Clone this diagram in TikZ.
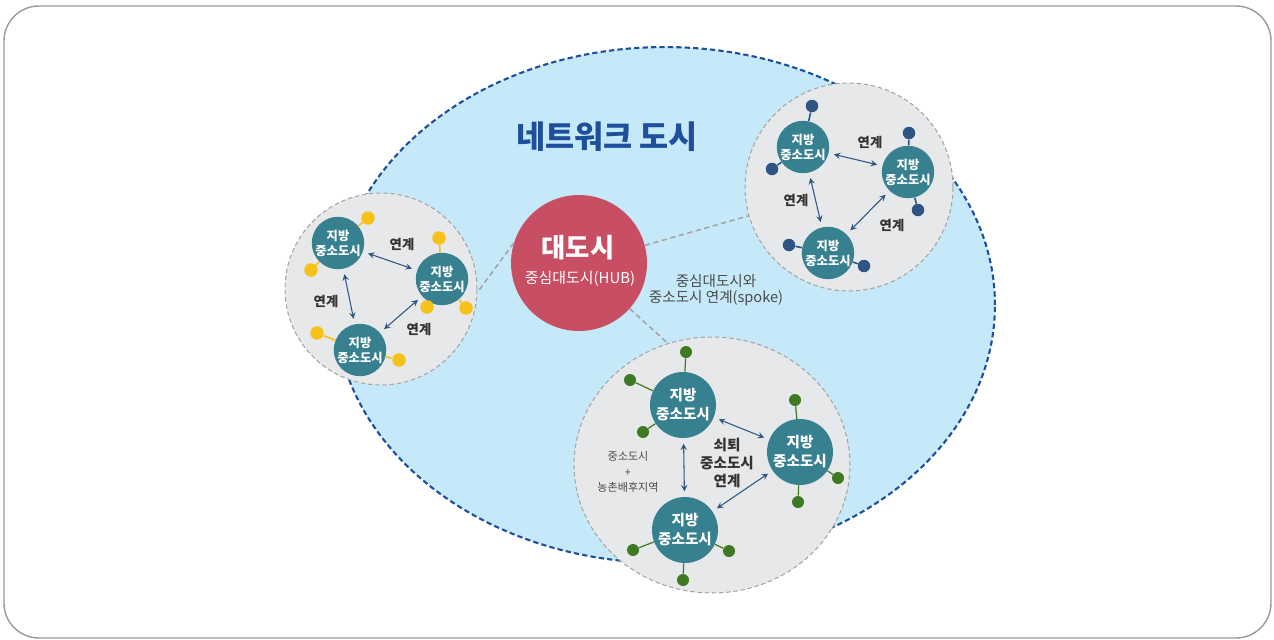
\documentclass[tikz,border=0pt]{standalone}
\usepackage{fontspec}
\setmainfont{Noto Sans CJK KR}
\usetikzlibrary{shapes.geometric}
\definecolor{framegray}{HTML}{9A9A9A}
\definecolor{netblue}{HTML}{1E4F9C}
\definecolor{netfill}{HTML}{C6E9F9}
\definecolor{clusterfill}{HTML}{E7E8EA}
\definecolor{clusterline}{HTML}{A4A4A4}
\definecolor{cityteal}{HTML}{37808F}
\definecolor{hubred}{HTML}{C84F63}
\definecolor{dotyellow}{HTML}{F6C21A}
\definecolor{dotblue}{HTML}{2E5583}
\definecolor{dotgreen}{HTML}{3D7A22}
\definecolor{linkblue}{HTML}{2E5583}
\definecolor{labelgray}{HTML}{333333}
\definecolor{spokegray}{HTML}{4A4A4A}

\begin{document}
\begin{tikzpicture}[x=0.02cm,y=-0.02cm,
    cluster/.style={circle,draw=clusterline,dashed,dash pattern=on 2.5pt off 1.6pt,fill=clusterfill,line width=0.6pt,inner sep=0pt},
    city/.style={circle,fill=cityteal,text=white,align=center,inner sep=0pt,minimum size=1cm,font=\bfseries\fontsize{7}{8.5}\selectfont},
    bigcity/.style={city,minimum size=1.32cm,font=\bfseries\fontsize{8.3}{10.8}\selectfont},
    dot/.style={circle,inner sep=0pt,minimum size=0.27cm},
    link/.style={<->,>=stealth,draw=linkblue,line width=0.6pt,shorten <=3pt,shorten >=3pt},
    lbl/.style={text=labelgray,font=\bfseries\fontsize{7.6}{9}\selectfont},
    spoke/.style={draw=clusterline,dashed,dash pattern=on 3pt off 2pt,line width=0.9pt}]
    \useasboundingbox (0,0) rectangle (1274,639);
    \draw[framegray,line width=0.8pt,rounded corners=0.7cm] (4,6) rectangle (1271,638);

    % network city
    \draw[netblue,line width=1.2pt,dash pattern=on 3pt off 1.8pt,fill=netfill] (665,305) ellipse [x radius=6.6cm,y radius=5.16cm];
    \node[text=netblue,font=\bfseries\fontsize{18}{20}\selectfont] (title) at (607,137) {네트워크 도시};

    % clusters
    \node[cluster,minimum size=3.84cm] (lcl) at (381,289) {};
    \node[cluster,minimum size=4.16cm] (rcl) at (849,187) {};
    \node[cluster,ellipse,minimum width=5.52cm,minimum height=5.12cm] (bcl) at (712,465) {};

    % hub
    \node[circle,fill=hubred,minimum size=2.72cm] (hub) at (579,263) {};
    \node[text=white,font=\bfseries\fontsize{15}{18}\selectfont] (hubname) at (578,248) {대도시};
    \node[text=white,font=\fontsize{8.5}{10}\selectfont] (hubsub) at (580,279) {중심대도시(HUB)};
    \draw[spoke] (hub.163) -- (lcl.-2);
    \draw[spoke] (hub.15) -- (rcl.196);
    \draw[spoke] (hub.-42) -- (bcl.110);
    \node[text=spokegray,align=center,font=\fontsize{8.3}{9.2}\selectfont] (spoketext) at (716,290) {중심대도시와\\중소도시 연계(spoke)};

    % left cluster
    \node[city] (la) at (338,243) {지방\\중소도시};
    \node[city] (lb) at (442,279) {지방\\중소도시};
    \node[city] (lc) at (360,350) {지방\\중소도시};
    \foreach \c/\x/\y in {la/368/218,la/311/270,lb/439/238,lb/427/307,lb/466/308,lc/317/333,lc/399/360} {
        \node[dot,fill=dotyellow] (d) at (\x,\y) {};
        \draw[dotyellow,line width=0.9pt] (\c) -- (d);
    }
    \draw[link] (la) -- (lb);
    \draw[link] (la) -- (lc);
    \draw[link] (lb) -- (lc);
    \node[lbl] (lab) at (402,244) {연계};
    \node[lbl] (lac) at (326,301) {연계};
    \node[lbl] (lbc) at (419,329) {연계};

    % right cluster
    \node[city,minimum size=0.96cm] (ra) at (803,147) {지방\\중소도시};
    \node[city,minimum size=0.96cm] (rb) at (908,172) {지방\\중소도시};
    \node[city,minimum size=0.96cm] (rc) at (828,253) {지방\\중소도시};
    \foreach \c/\x/\y in {ra/812/106,ra/772/169,rb/909/133,rb/918/210,rc/789/245,rc/864/266} {
        \node[dot,fill=dotblue,minimum size=0.25cm] (d) at (\x,\y) {};
        \draw[dotblue,line width=0.9pt] (\c) -- (d);
    }
    \draw[link] (ra) -- (rb);
    \draw[link] (ra) -- (rc);
    \draw[link] (rb) -- (rc);
    \node[lbl] (rab) at (870,142) {연계};
    \node[lbl] (rac) at (796,200) {연계};
    \node[lbl] (rbc) at (892,225) {연계};

    % bottom cluster
    \node[bigcity] (ba) at (683,405) {지방\\중소도시};
    \node[bigcity] (bb) at (800,452) {지방\\중소도시};
    \node[bigcity] (bc) at (685,530) {지방\\중소도시};
    \foreach \c/\x/\y in {ba/686/352,ba/630/380,ba/643/432,bb/795/400,bb/838/478,bb/798/502,bc/633/550,bc/729/551,bc/683/580} {
        \node[dot,fill=dotgreen,minimum size=0.24cm] (d) at (\x,\y) {};
        \draw[dotgreen,line width=0.7pt] (\c) -- (d);
    }
    \draw[link] (ba) -- (bb);
    \draw[link] (ba) -- (bc);
    \draw[link] (bb) -- (bc);
    \node[lbl,align=center,font=\bfseries\fontsize{8.3}{10}\selectfont] (decline) at (727,463) {쇠퇴\\중소도시\\연계};
    \node[text=spokegray,align=center,font=\fontsize{6.3}{8.8}\selectfont] (rural) at (628,472) {중소도시\\+\\농촌배후지역};
\end{tikzpicture}
\end{document}
